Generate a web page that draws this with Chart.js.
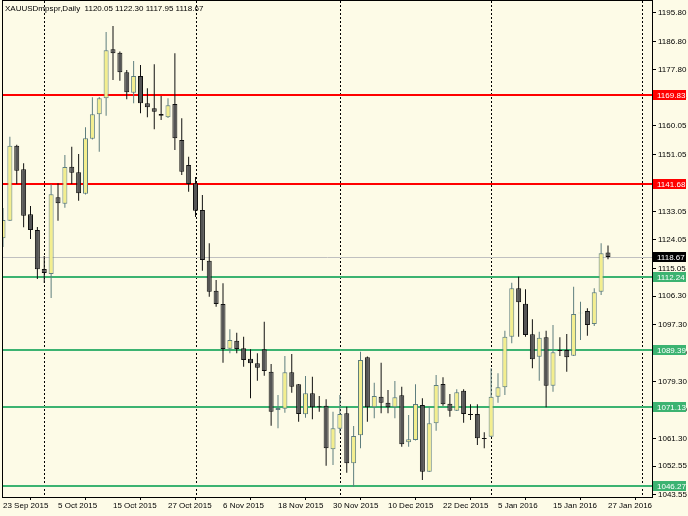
<!DOCTYPE html>
<html>
<head>
<meta charset="utf-8">
<script src="https://cdn.jsdelivr.net/npm/chart.js@4.4.0/dist/chart.umd.min.js"></script>
<style>
html, body { margin: 0; padding: 0; background: #FDFBE7; }
#wrap { width: 688px; height: 516px; }
</style>
</head>
<body>
<div id="wrap"><canvas id="chart" width="688" height="516"></canvas></div>
<script>
// daily bars, 23 Sep 2015 .. 27 Jan 2016
const opens = [1124.54, 1130.10, 1153.80, 1146.35, 1132.12, 1127.16, 1114.83, 1113.26, 1137.50, 1135.47,
  1147.17, 1145.40, 1138.63, 1156.02, 1163.73, 1168.79, 1184.27, 1183.20, 1177.00, 1170.56,
  1175.83, 1167.21, 1165.63, 1163.83, 1162.78, 1166.99, 1155.61, 1147.71, 1141.92, 1133.48,
  1117.46, 1107.98, 1103.77, 1089.65, 1092.17, 1089.77, 1086.49, 1085.03, 1089.46, 1082.38,
  1070.27, 1070.68, 1082.19, 1078.39, 1068.91, 1075.55, 1071.44, 1071.63, 1057.85, 1064.36,
  1069.23, 1053.43, 1062.28, 1086.93, 1071.12, 1074.48, 1072.58, 1071.12, 1074.92, 1060.06,
  1060.79, 1071.85, 1050.77, 1066.07, 1078.49, 1072.26, 1070.05, 1076.37, 1069.01, 1069.01,
  1061.42, 1061.83, 1074.48, 1077.45, 1093.44, 1108.73, 1103.87, 1094.20, 1087.12, 1093.25,
  1077.95, 1089.23, 1089.23, 1087.44, 1100.84, 1101.57, 1097.45, 1107.66, 1120.05];
const highs = [1134.11, 1156.65, 1154.10, 1148.24, 1134.75, 1128.11, 1118.94, 1141.61, 1141.92, 1150.87,
  1153.49, 1151.18, 1159.62, 1169.10, 1169.20, 1189.74, 1191.64, 1183.58, 1177.73, 1180.58,
  1179.31, 1171.95, 1179.53, 1169.51, 1168.79, 1183.01, 1162.47, 1150.33, 1143.91, 1138.22,
  1122.96, 1111.36, 1110.31, 1095.78, 1094.70, 1093.44, 1089.46, 1088.19, 1098.18, 1084.81,
  1075.01, 1087.34, 1087.97, 1078.49, 1081.02, 1080.80, 1074.70, 1073.65, 1069.73, 1075.01,
  1071.31, 1065.21, 1088.70, 1087.20, 1078.90, 1085.22, 1076.59, 1079.44, 1077.64, 1068.69,
  1078.39, 1073.97, 1071.31, 1081.33, 1080.61, 1075.33, 1076.81, 1076.81, 1072.07, 1072.07,
  1063.22, 1083.45, 1081.87, 1095.33, 1110.50, 1112.40, 1108.42, 1098.94, 1095.02, 1095.33,
  1097.14, 1093.25, 1094.29, 1109.24, 1104.50, 1102.42, 1108.73, 1122.96, 1122.30];
const lows = [1121.79, 1130.00, 1141.70, 1128.01, 1124.32, 1111.67, 1110.41, 1105.67, 1130.10, 1134.21,
  1141.70, 1136.42, 1138.38, 1155.76, 1151.91, 1163.29, 1174.57, 1174.35, 1168.47, 1167.21,
  1164.05, 1162.78, 1158.99, 1161.93, 1162.56, 1152.45, 1144.55, 1139.27, 1131.27, 1114.30,
  1106.08, 1102.92, 1085.22, 1088.19, 1088.19, 1083.96, 1073.97, 1079.53, 1081.11, 1065.31,
  1064.48, 1069.42, 1075.74, 1066.57, 1067.84, 1067.33, 1069.73, 1052.66, 1052.89, 1062.90,
  1050.45, 1046.03, 1058.16, 1066.57, 1067.65, 1069.23, 1069.23, 1067.65, 1058.67, 1058.67,
  1060.60, 1048.15, 1050.67, 1063.73, 1071.63, 1068.16, 1069.95, 1066.26, 1067.11, 1059.21,
  1058.16, 1061.73, 1072.58, 1075.01, 1091.35, 1093.44, 1093.44, 1083.45, 1079.53, 1071.12,
  1076.06, 1087.34, 1082.38, 1087.34, 1092.40, 1093.76, 1096.82, 1106.62, 1117.95];
const closes = [1130.32, 1153.80, 1145.90, 1131.68, 1127.16, 1114.74, 1113.57, 1138.45, 1135.60, 1147.07,
  1145.27, 1138.76, 1156.14, 1163.73, 1168.79, 1183.96, 1183.01, 1177.00, 1170.68, 1175.83,
  1167.21, 1165.94, 1164.55, 1163.29, 1166.58, 1156.14, 1145.59, 1141.70, 1133.26, 1117.68,
  1107.66, 1103.77, 1089.55, 1092.40, 1089.55, 1086.07, 1085.03, 1083.64, 1082.60, 1069.73,
  1070.91, 1082.19, 1077.64, 1069.01, 1075.55, 1071.12, 1071.12, 1058.16, 1064.48, 1069.01,
  1053.43, 1062.05, 1086.07, 1071.12, 1074.70, 1072.58, 1071.12, 1074.29, 1059.43, 1061.01,
  1072.17, 1050.77, 1066.07, 1078.17, 1072.07, 1070.05, 1075.87, 1069.01, 1068.69, 1061.32,
  1061.10, 1074.48, 1077.45, 1093.44, 1108.73, 1104.31, 1093.97, 1086.30, 1093.12, 1077.95,
  1088.51, 1088.92, 1086.93, 1100.62, 1101.03, 1097.14, 1107.47, 1119.80, 1118.67];

const dateTicks = [0, 8, 16, 24, 32, 40, 48, 56, 64, 72, 80, 88];
const dateLabels = ['23 Sep 2015', '5 Oct 2015', '15 Oct 2015', '27 Oct 2015', '6 Nov 2015', '18 Nov 2015',
  '30 Nov 2015', '10 Dec 2015', '22 Dec 2015', '5 Jan 2016', '15 Jan 2016', '27 Jan 2016'];
const priceTicks = [1195.80, 1186.80, 1177.80, 1168.80, 1160.05, 1151.05, 1142.05, 1133.05, 1124.05,
  1115.05, 1106.30, 1097.30, 1088.30, 1079.30, 1070.30, 1061.30, 1052.55, 1043.55];
const redLevels = [1169.83, 1141.68];
const greenLevels = [1112.24, 1089.39, 1071.13, 1046.27];
const monthStarts = [6, 28, 49, 71, 93];   // period separators (bar index)
const lastPrice = 1118.67;
const title = 'XAUUSDmpspr,Daily  1120.05 1122.30 1117.95 1118.67';

const bg = '#FDFBE7';
const bullFill = '#F3EE8E', bullLine = '#5E7E7E';
const bearFill = '#555555', bearLine = '#111111';
const red = '#FF0000', green = '#3CB371';
const font = '8px "Liberation Sans", Arial, sans-serif';

const isBull = i => closes[i] >= opens[i];

// background, lines behind the candles, labels on top
const mtPlugin = {
  id: 'mt',
  beforeDraw(chart) {
    const c = chart.ctx;
    c.save();
    c.fillStyle = bg;
    c.fillRect(0, 0, chart.width, chart.height);
    c.restore();
  },
  beforeDatasetsDraw(chart) {
    const c = chart.ctx, a = chart.chartArea;
    const x = chart.scales.x, y = chart.scales.y;
    c.save();
    c.beginPath();
    c.rect(a.left, a.top, a.right - a.left, a.bottom - a.top);
    c.clip();
    // separators
    c.strokeStyle = '#000';
    c.lineWidth = 1;
    c.setLineDash([2, 2]);
    monthStarts.forEach(m => {
      const px = Math.round(x.getPixelForValue(m)) + 0.5;
      c.beginPath(); c.moveTo(px, a.top); c.lineTo(px, a.bottom); c.stroke();
    });
    c.setLineDash([]);
    // bid line
    c.strokeStyle = '#C0C0C0';
    let py = Math.round(y.getPixelForValue(lastPrice)) + 0.5;
    c.beginPath(); c.moveTo(a.left, py); c.lineTo(a.right, py); c.stroke();
    c.lineWidth = 2;
    const hline = (v, col) => {
      const p = Math.round(y.getPixelForValue(v));
      c.strokeStyle = col;
      c.beginPath(); c.moveTo(a.left, p); c.lineTo(a.right, p); c.stroke();
    };
    redLevels.forEach(v => hline(v, red));
    greenLevels.forEach(v => hline(v, green));
    c.restore();
  },
  afterDraw(chart) {
    const c = chart.ctx, a = chart.chartArea, y = chart.scales.y;
    c.save();
    c.strokeStyle = '#000';
    c.lineWidth = 1;
    c.strokeRect(a.left - 0.5, a.top - 0.5, a.right - a.left + 1, a.bottom - a.top + 1);
    c.font = font;
    c.textBaseline = 'middle';
    const tag = (v, col) => {
      const p = Math.round(y.getPixelForValue(v));
      c.fillStyle = col;
      c.fillRect(a.right + 1, p - 5, 33, 10);
      c.fillStyle = '#fff';
      c.fillText(v.toFixed(2), a.right + 5, p + 0.5);
    };
    redLevels.forEach(v => tag(v, red));
    greenLevels.forEach(v => tag(v, green));
    tag(lastPrice, '#000');
    c.fillStyle = '#000';
    c.fillText(title, 5, 9);
    c.restore();
  }
};

new Chart(document.getElementById('chart'), {
  type: 'bar',
  data: {
    datasets: [{
      label: 'wick',
      data: highs.map((h, i) => ({ x: i, y: [lows[i], h] })),
      backgroundColor: highs.map((h, i) => isBull(i) ? bullLine : bearLine),
      barThickness: 1,
      borderWidth: 0,
      inflateAmount: 0,
      grouped: false,
      order: 2
    }, {
      label: 'body',
      data: opens.map((o, i) => ({ x: i, y: [o, closes[i]] })),
      backgroundColor: opens.map((o, i) => isBull(i) ? bullFill : bearFill),
      borderColor: opens.map((o, i) => isBull(i) ? bullLine : bearLine),
      borderWidth: 1,
      borderSkipped: false,
      barThickness: 5,
      inflateAmount: 0,
      grouped: false,
      order: 1
    }]
  },
  options: {
    responsive: false,
    animation: false,
    devicePixelRatio: 1,
    layout: { padding: { left: 3, top: 1, right: 0, bottom: 0 } },
    plugins: { legend: { display: false }, tooltip: { enabled: false } },
    scales: {
      x: {
        type: 'linear',
        min: 0,
        max: 94.4,
        offset: false,
        grid: { drawOnChartArea: false, color: '#000', tickLength: 3 },
        border: { color: '#000' },
        afterBuildTicks: s => { s.ticks = dateTicks.map(v => ({ value: v })); },
        afterFit: s => { s.height = 19; s.paddingLeft = 0; s.paddingRight = 0; },
        ticks: {
          align: 'start',
          autoSkip: false,
          maxRotation: 0,
          padding: 1,
          color: '#000',
          font: { family: '"Liberation Sans", Arial, sans-serif', size: 8 },
          callback: v => dateLabels[dateTicks.indexOf(v)]
        }
      },
      y: {
        position: 'right',
        min: 1042.78,
        max: 1199.54,
        grid: { drawOnChartArea: false, color: '#000', tickLength: 4 },
        border: { color: '#000' },
        afterBuildTicks: s => { s.ticks = priceTicks.map(v => ({ value: v })); },
        afterFit: s => { s.width = 36; s.paddingTop = 0; s.paddingBottom = 0; },
        ticks: {
          padding: 2,
          color: '#000',
          font: { family: '"Liberation Sans", Arial, sans-serif', size: 8 },
          callback: v => v.toFixed(2)
        }
      }
    }
  },
  plugins: [mtPlugin]
});
</script>
</body>
</html>
